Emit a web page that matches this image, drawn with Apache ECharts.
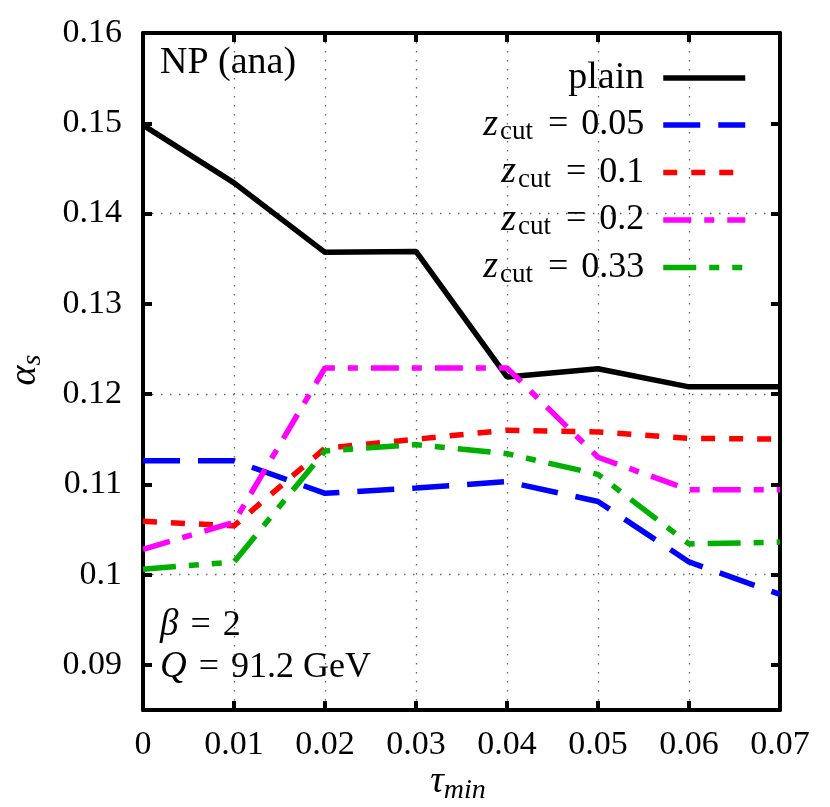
<!DOCTYPE html>
<html><head><meta charset="utf-8">
<script src="https://cdn.jsdelivr.net/npm/echarts@6/dist/echarts.min.js"></script>
<style>html,body{margin:0;padding:0;background:#fff}#c{width:830px;height:807px}</style>
</head><body><div id="c"></div>
<script>
const tau = [0, 0.01, 0.02, 0.03, 0.04, 0.05, 0.06, 0.07];
const plain = [0.1498, 0.1434, 0.1357, 0.1358, 0.1219, 0.1228, 0.1208, 0.1208];
const zcut005 = [0.1126, 0.1126, 0.1090, 0.1096, 0.1103, 0.1081, 0.1014, 0.0978];
const zcut01 = [0.1059, 0.1054, 0.1140, 0.1150, 0.1160, 0.1158, 0.1151, 0.1150];
const zcut02 = [0.1028, 0.1058, 0.1229, 0.1229, 0.1229, 0.1130, 0.1094, 0.1094];
const zcut033 = [0.1006, 0.1014, 0.1137, 0.1144, 0.1134, 0.1111, 0.1034, 0.1036];
const yTicks = [0.09, 0.10, 0.11, 0.12, 0.13, 0.14, 0.15, 0.16];
const seriesNames = ['plain', 'z005', 'z01', 'z02', 'z033'];
const legendLabels = {plain: 'plain', z005: '0.05', z01: '0.1', z02: '0.2', z033: '0.33'};

const F = '"Liberation Serif", "Times New Roman", serif';
const fmt = v => String(parseFloat(v.toFixed(4)));
const pairs = arr => tau.map((t, i) => [t, arr[i]]);
const dots = {color: '#666', width: 1.3, type: [1.5, 7.5]};
const gridLine = {show: true, lineStyle: Object.assign({}, dots, {color: ['rgba(0,0,0,0)', '#666']})};
const axLine = {show: true, onZero: false, lineStyle: {color: '#000', width: 4}};
const tick = {show: true, inside: true, length: 9, lineStyle: {color: '#000', width: 4}};

const chart = echarts.init(document.getElementById('c'));
const mk = (name, data, color, type) => ({
  name, type: 'line', data: pairs(data), symbol: 'none', silent: true,
  lineStyle: {color, width: 5.5, type}, itemStyle: {color}
});
chart.setOption({
  animation: false,
  backgroundColor: '#fff',
  grid: {left: 143, right: 50, top: 33, bottom: 97},
  xAxis: [{
    type: 'value', min: 0, max: 0.07, interval: 0.01,
    axisLine: axLine, axisTick: tick,
    axisLabel: {color: '#000', fontFamily: F, fontSize: 34, margin: 18, formatter: fmt},
    splitLine: {show: true, lineStyle: dots}
  }, {
    type: 'value', min: 0, max: 0.07, interval: 0.01, position: 'top',
    axisLine: axLine, axisTick: tick,
    axisLabel: {show: false}, splitLine: {show: false}
  }],
  yAxis: [{
    type: 'value', min: 0.085, max: 0.16, interval: 0.005,
    axisLine: axLine,
    axisTick: Object.assign({}, tick, {customValues: yTicks}),
    axisLabel: {color: '#000', fontFamily: F, fontSize: 34, margin: 21, customValues: yTicks, formatter: fmt},
    splitLine: gridLine
  }, {
    type: 'value', min: 0.085, max: 0.16, interval: 0.005, position: 'right',
    axisLine: axLine,
    axisTick: Object.assign({}, tick, {customValues: yTicks}),
    axisLabel: {show: false}, splitLine: {show: false}
  }],
  legend: {
    orient: 'vertical', right: 77, top: 53, align: 'right',
    itemWidth: 82, itemHeight: 14, itemGap: 6.5,
    data: seriesNames,
    lineStyle: {width: 5.5},
    itemStyle: {opacity: 0, color: 'rgba(0,0,0,0)', borderWidth: 0},
    formatter: n => n === 'plain' ? '{w|plain}' : '{i|z}{s|cut}{e|=}{r|' + legendLabels[n] + '}',
    textStyle: {
      color: '#000', fontFamily: F, fontSize: 36, lineHeight: 40, padding: [0, 14, 0, 0],
      rich: {
        w: {fontFamily: F, fontSize: 38, lineHeight: 40, color: '#000'},
        r: {fontFamily: F, fontSize: 36, lineHeight: 40, color: '#000'},
        e: {fontFamily: F, fontSize: 36, lineHeight: 40, color: '#000', padding: [0, 13, 0, 15]},
        i: {fontFamily: F, fontStyle: 'italic', fontSize: 38, lineHeight: 40, color: '#000'},
        s: {fontFamily: F, fontSize: 27, lineHeight: 40, color: '#000', padding: [14, 0, 0, 2]}
      }
    }
  },
  graphic: [
    {type: 'text', left: 160, top: 44, style: {text: 'NP (ana)', font: '38px ' + F, fill: '#000'}},
    {type: 'text', left: 160, top: 607, style: {
      text: '{i|β}{e|=}2', fill: '#000', font: '36px ' + F,
      rich: {i: {fontFamily: F, fontStyle: 'italic', fontSize: 37},
             e: {fontFamily: F, fontSize: 36, padding: [0, 12, 0, 12]}}}},
    {type: 'text', left: 160, top: 649, style: {
      text: '{i|Q}{e|=}91.2 GeV', fill: '#000', font: '36px ' + F,
      rich: {i: {fontFamily: F, fontStyle: 'italic', fontSize: 37},
             e: {fontFamily: F, fontSize: 36, padding: [0, 12, 0, 12]}}}},
    {type: 'text', x: 458, y: 786, style: {
      text: '{t|τ}{s|min}', align: 'center', verticalAlign: 'middle', fill: '#000',
      rich: {t: {fontFamily: F, fontStyle: 'italic', fontSize: 38, padding: [0, 0, 8, 0]},
             s: {fontFamily: F, fontStyle: 'italic', fontSize: 28, padding: [10, 0, 0, 0]}}}},
    {type: 'text', x: 28, y: 370, rotation: Math.PI / 2, style: {
      text: '{a|α}{s|s}', align: 'center', verticalAlign: 'middle', fill: '#000',
      rich: {a: {fontFamily: F, fontStyle: 'italic', fontSize: 38, padding: [0, 0, 6, 0]},
             s: {fontFamily: F, fontStyle: 'italic', fontSize: 28, padding: [10, 0, 0, 0]}}}}
  ],
  series: [
    mk('plain', plain, '#000000', 'solid'),
    mk('z005', zcut005, '#0000ff', [37, 18]),
    mk('z01', zcut01, '#ff0000', [14, 14]),
    mk('z02', zcut02, '#ff00ff', [28, 13, 10, 13]),
    mk('z033', zcut033, '#00b000', [33, 13, 10, 13, 10, 13])
  ]
});
</script></body></html>
